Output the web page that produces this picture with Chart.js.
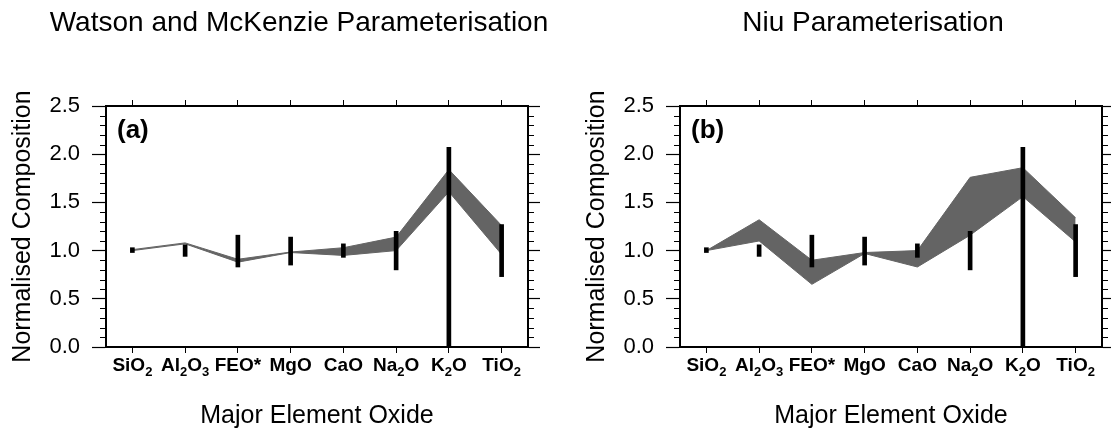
<!DOCTYPE html>
<html>
<head>
<meta charset="utf-8">
<script src="https://cdn.jsdelivr.net/npm/chart.js@4/dist/chart.umd.min.js"></script>
<style>
  html, body { margin: 0; padding: 0; background: #fff; overflow: hidden; width: 1111px; height: 432px; }
  canvas { position: absolute; top: 0; }
  #panelA { left: 0; }
  #panelB { left: 574px; }
</style>
</head>
<body>
<canvas id="panelA" width="598" height="432"></canvas>
<canvas id="panelB" width="598" height="432"></canvas>
<script>
// categories on the x axis (digits are drawn as subscripts)
const categories = ['SiO2', 'Al2O3', 'FEO*', 'MgO', 'CaO', 'Na2O', 'K2O', 'TiO2'];

// y axis ticks
const yTickValues = [0, 0.5, 1.0, 1.5, 2.0, 2.5];
const yMinorTicks = [0.1, 0.2, 0.3, 0.4, 0.6, 0.7, 0.8, 0.9, 1.1, 1.2, 1.3, 1.4,
                     1.6, 1.7, 1.8, 1.9, 2.1, 2.2, 2.3, 2.4];

// observed range (black bars), same in both panels
const obsLow  = [0.98, 0.94, 0.83, 0.85, 0.93, 0.80, 0.00, 0.73];
const obsHigh = [1.03, 1.06, 1.16, 1.14, 1.07, 1.20, 2.07, 1.27];

// Watson and McKenzie model band
const wmLow  = [1.00, 1.07, 0.88, 0.98, 0.95, 1.00, 1.61, 0.96];
const wmHigh = [1.01, 1.08, 0.91, 0.985, 1.03, 1.14, 1.84, 1.26];

// Niu model band
const niuLow  = [1.00, 1.10, 0.65, 0.97, 0.83, 1.16, 1.56, 1.09];
const niuHigh = [1.00, 1.32, 0.90, 0.98, 1.00, 1.76, 1.86, 1.34];

const FONT = '"Liberation Sans", Arial, Helvetica, sans-serif';
Chart.defaults.font.family = FONT;
Chart.defaults.color = '#000';

const bandColor = '#646464';
const axisBorder = { display: true, color: '#000', width: 2 };

// minor ticks, subscript labels and the panel letter
const panelExtras = {
  id: 'panelExtras',
  afterDraw(chart, args, opts) {
    const { ctx, chartArea: a, scales } = chart;
    ctx.save();
    ctx.strokeStyle = '#000';
    ctx.lineWidth = 1;
    ctx.beginPath();
    yMinorTicks.forEach(v => {
      const py = Math.round(scales.y.getPixelForValue(v)) + 0.5;
      ctx.moveTo(a.left - 6, py); ctx.lineTo(a.left, py);
      ctx.moveTo(a.right, py); ctx.lineTo(a.right + 6, py);
    });
    ctx.stroke();

    // category labels
    ctx.fillStyle = '#000';
    ctx.textBaseline = 'alphabetic';
    ctx.textAlign = 'left';
    const mainFont = 'bold 19px ' + FONT;
    const subFont = 'bold 13px ' + FONT;
    const base = a.bottom + 24;
    chart.data.labels.forEach((lab, i) => {
      const parts = lab.match(/\d+|\D+/g);
      const widths = parts.map(p => {
        ctx.font = /\d/.test(p) ? subFont : mainFont;
        return ctx.measureText(p).width;
      });
      let x = scales.x.getPixelForTick(i) - widths.reduce((s, w) => s + w, 0) / 2;
      parts.forEach((p, k) => {
        const sub = /\d/.test(p);
        ctx.font = sub ? subFont : mainFont;
        ctx.fillText(p, x, sub ? base + 5 : base);
        x += widths[k];
      });
    });

    // panel letter
    ctx.font = 'bold 26px ' + FONT;
    ctx.fillText(opts.letter, a.left + 11, a.top + 31.5);
    ctx.restore();
  }
};

function makePanel(id, title, letter, low, high) {
  const yBase = {
    type: 'linear', min: 0, max: 2.5,
    afterBuildTicks: s => { s.ticks = yTickValues.map(v => ({ value: v })); },
    border: axisBorder
  };
  const xBase = {
    type: 'category', offset: true,
    grid: { drawOnChartArea: false, offset: false, tickLength: 6, tickColor: '#000', tickWidth: 1 },
    border: axisBorder,
    ticks: { display: false }
  };
  return new Chart(document.getElementById(id), {
    type: 'bar',
    data: {
      labels: categories,
      datasets: [
        {
          type: 'bar',
          data: obsLow.map((v, i) => [v, obsHigh[i]]),
          backgroundColor: '#000',
          borderWidth: 0,
          barThickness: 4,
          order: 0
        },
        {
          type: 'line', data: high, fill: '+1',
          backgroundColor: bandColor, borderColor: bandColor, borderWidth: 1,
          pointRadius: 0, tension: 0, order: 1
        },
        {
          type: 'line', data: low, fill: false,
          borderColor: bandColor, borderWidth: 1,
          pointRadius: 0, tension: 0, order: 2
        }
      ]
    },
    options: {
      responsive: false,
      animation: false,
      layout: { padding: 0 },
      plugins: {
        legend: { display: false },
        tooltip: { enabled: false },
        title: {
          display: true, text: title, color: '#000',
          font: { size: 28, weight: 'normal' },
          padding: { top: 6.2, bottom: 0 }
        },
        panelExtras: { letter: letter }
      },
      scales: {
        x: Object.assign({}, xBase, {
          position: 'bottom',
          title: {
            display: true, text: 'Major Element Oxide', color: '#000',
            font: { size: 25 }, padding: { top: 0, bottom: 1 }
          },
          afterFit: s => { s.height = 85; }
        }),
        x2: Object.assign({}, xBase, {
          position: 'top',
          afterFit: s => { s.height = 66.2; }
        }),
        y: Object.assign({}, yBase, {
          position: 'left',
          ticks: { callback: v => v.toFixed(1), font: { size: 22 }, color: '#000', padding: 12 },
          grid: { drawOnChartArea: false, tickLength: 14, tickColor: '#000', tickWidth: 1.2 },
          title: {
            display: true, text: 'Normalised Composition', color: '#000',
            font: { size: 25 }, padding: { top: 8, bottom: 0 }
          },
          afterFit: s => { s.width = 106; }
        }),
        y2: Object.assign({}, yBase, {
          position: 'right',
          ticks: { display: false },
          grid: { drawOnChartArea: false, tickLength: 12, tickColor: '#000', tickWidth: 1.2 },
          afterFit: s => { s.width = 70; }
        })
      }
    },
    plugins: [panelExtras]
  });
}

makePanel('panelA', 'Watson and McKenzie Parameterisation', '(a)', wmLow, wmHigh);
makePanel('panelB', 'Niu Parameterisation', '(b)', niuLow, niuHigh);
</script>
</body>
</html>
